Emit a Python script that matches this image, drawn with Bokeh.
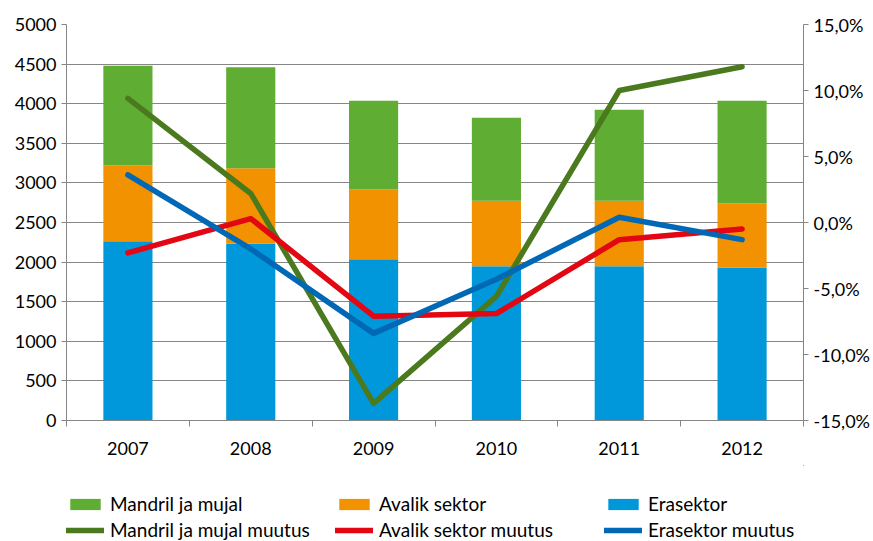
from bokeh.plotting import figure
from bokeh.models import (ColumnDataSource, Range1d, LinearAxis, FixedTicker,
                          Legend, LegendItem)
from bokeh.layouts import column
from bokeh.embed import file_html
from bokeh.resources import INLINE

years = ["2007", "2008", "2009", "2010", "2011", "2012"]
erasektor = [2264, 2231, 2037, 1948, 1948, 1932]
avalik = [956, 955, 884, 826, 826, 808]
mandril = [1259, 1275, 1115, 1048, 1149, 1296]
mandril_muutus = [9.4, 2.2, -13.7, -5.6, 10.0, 11.8]
avalik_muutus = [-2.3, 0.3, -7.1, -6.9, -1.3, -0.5]
era_muutus = [3.6, -2.0, -8.4, -4.3, 0.4, -1.3]
left_ticks = [0, 500, 1000, 1500, 2000, 2500, 3000, 3500, 4000, 4500, 5000]
right_ticks = [-15, -10, -5, 0, 5, 10, 15]
right_labels = ["-15,0%", "-10,0%", "-5,0%", "0,0%", "5,0%", "10,0%", "15,0%"]
series_labels = ["Erasektor", "Avalik sektor", "Mandril ja mujal"]
line_labels = ["Erasektor muutus", "Avalik sektor muutus", "Mandril ja mujal muutus"]

FONT = "Lato"
FS = "18px"
GRAY = "#868686"
BAR_COLORS = ["#0098da", "#f39200", "#5fad33"]
LINE_COLORS = ["#0068b4", "#e30613", "#4b7a1e"]
LW = 5.5

x = list(range(1, len(years) + 1))
src = ColumnDataSource(dict(x=x, era=erasektor, avalik=avalik, mandril=mandril,
                            mm=mandril_muutus, am=avalik_muutus, em=era_muutus))


def draw(fig, **kw):
    bars = fig.vbar_stack(["era", "avalik", "mandril"], x="x", width=0.4, source=src,
                          color=BAR_COLORS, line_color=None)
    r_m = fig.line("x", "mm", source=src, color=LINE_COLORS[2], line_width=LW,
                   line_cap="round", line_join="round", **kw)
    r_a = fig.line("x", "am", source=src, color=LINE_COLORS[1], line_width=LW,
                   line_cap="round", line_join="round", **kw)
    r_e = fig.line("x", "em", source=src, color=LINE_COLORS[0], line_width=LW,
                   line_cap="round", line_join="round", **kw)
    return bars, r_m, r_a, r_e


p = figure(width=873, height=465, output_backend="svg", toolbar_location=None,
           x_range=Range1d(0.5, len(years) + 0.5), y_range=Range1d(0, 5000),
           min_border_left=66, min_border_right=70, min_border_top=24,
           min_border_bottom=45)
p.outline_line_color = None
p.extra_y_ranges = {"pct": Range1d(-15, 15)}
draw(p, y_range_name="pct")

# x axis
xa = p.xaxis[0]
xa.ticker = FixedTicker(ticks=x, minor_ticks=[i + 0.5 for i in range(len(years) + 1)])
xa.major_label_overrides = {i: y for i, y in zip(x, years)}
xa.major_tick_out = 0
xa.major_tick_in = 0
xa.minor_tick_out = 6
xa.minor_tick_in = 0
xa.minor_tick_line_color = GRAY
xa.axis_line_color = GRAY
xa.major_label_standoff = 15

# left axis
ya = p.yaxis[0]
ya.ticker = FixedTicker(ticks=left_ticks)
ya.minor_tick_line_color = None
ya.major_tick_out = 5
ya.major_tick_in = 0
ya.major_tick_line_color = GRAY
ya.axis_line_color = GRAY
ya.major_label_standoff = 5

# right axis
ra = LinearAxis(y_range_name="pct", ticker=FixedTicker(ticks=right_ticks))
ra.major_label_overrides = {t: l for t, l in zip(right_ticks, right_labels)}
ra.minor_tick_line_color = None
ra.major_tick_out = 5
ra.major_tick_in = 0
ra.major_tick_line_color = GRAY
ra.axis_line_color = GRAY
ra.major_label_standoff = 5
p.add_layout(ra, "right")

for ax in [xa, ya, ra]:
    ax.major_label_text_font = FONT
    ax.major_label_text_font_size = FS
    ax.major_label_text_color = "#000000"

p.xgrid.grid_line_color = None
p.ygrid.grid_line_color = GRAY
p.ygrid.grid_line_width = 1

# legend panel: same series, out of view, only the legend shows
lg = figure(width=873, height=76, output_backend="svg", toolbar_location=None,
            x_range=Range1d(-20, -19), y_range=Range1d(-20000, -19999),
            x_axis_location=None, y_axis_location=None, min_border=0)
lg.outline_line_color = None
lg.grid.visible = False
lbars, l_m, l_a, l_e = draw(lg)

legend = Legend(items=[
    LegendItem(label=series_labels[2], renderers=[lbars[2]]),
    LegendItem(label=line_labels[2], renderers=[l_m]),
    LegendItem(label=series_labels[1], renderers=[lbars[1]]),
    LegendItem(label=line_labels[1], renderers=[l_a]),
    LegendItem(label=series_labels[0], renderers=[lbars[0]]),
    LegendItem(label=line_labels[0], renderers=[l_e]),
], ncols=3)
legend.label_text_font = FONT
legend.label_text_font_size = "19px"
legend.label_text_color = "#000000"
legend.glyph_width = 38
legend.glyph_height = 14
legend.label_standoff = 6
legend.label_width = 222
legend.spacing = 3
legend.padding = 0
legend.margin = 0
legend.border_line_color = None
legend.background_fill_alpha = 0
legend.location = (0, 0)
lg.add_layout(legend, "center")

open("out.html", "w").write(file_html(column(p, lg), INLINE))
